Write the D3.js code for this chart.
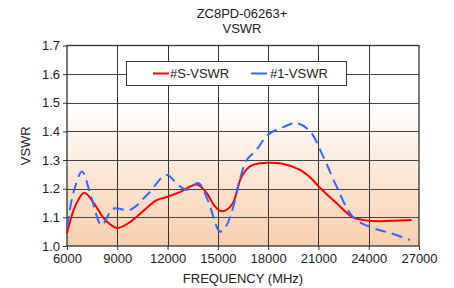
<!DOCTYPE html>
<html>
<head>
<meta charset="utf-8">
<script src="https://cdn.jsdelivr.net/npm/d3@7"></script>
<style>
  body { margin: 0; background: #fff; }
  text { font-family: "Liberation Sans", Arial, sans-serif; fill: #222; }
</style>
</head>
<body>
<div id="chart"></div>
<script>
// data
var freqS = [6000, 6500, 7030, 7600, 8300, 9000, 9800, 10600, 11350, 12000, 12800, 13740, 14330, 14800, 15180, 15500, 15900, 16400, 16900, 17500, 18000, 18800, 19900, 20500, 21030, 22090, 23080, 24280, 25300, 26560];
var vswrS = [1.045, 1.14, 1.186, 1.15, 1.09, 1.063, 1.085, 1.125, 1.16, 1.172, 1.19, 1.215, 1.185, 1.14, 1.122, 1.125, 1.15, 1.24, 1.277, 1.289, 1.291, 1.288, 1.266, 1.24, 1.207, 1.149, 1.10, 1.087, 1.088, 1.091];

var freq1 = [6000, 6400, 6900, 7400, 8070, 8750, 9760, 10800, 11940, 12600, 13140, 13830, 14400, 15130, 15500, 15920, 16300, 16720, 17310, 17980, 18900, 19670, 20500, 21290, 22090, 23080, 24280, 25300, 26450];
var vswr1 = [1.067, 1.19, 1.26, 1.18, 1.073, 1.13, 1.126, 1.18, 1.248, 1.215, 1.196, 1.22, 1.16, 1.05, 1.07, 1.137, 1.23, 1.30, 1.336, 1.388, 1.415, 1.429, 1.40, 1.312, 1.207, 1.10, 1.062, 1.045, 1.021];

var xTicks = [6000, 9000, 12000, 15000, 18000, 21000, 24000, 27000];
var yTicks = [1.0, 1.1, 1.2, 1.3, 1.4, 1.5, 1.6, 1.7];
var seriesNames = ["#S-VSWR", "#1-VSWR"];

var width = 454, height = 288;
var margin = {left: 67, right: 35, top: 45.5, bottom: 42};

var svg = d3.select("#chart").append("svg")
	.attr("width", width).attr("height", height);

var x = d3.scaleLinear().domain([6000, 27000]).range([margin.left, width - margin.right]);
var y = d3.scaleLinear().domain([1.0, 1.7]).range([height - margin.bottom, margin.top]);

// background gradient: white above 1.5, peach toward 1.0
var defs = svg.append("defs");
var grad = defs.append("linearGradient").attr("id", "bg")
	.attr("x1", 0).attr("y1", 0).attr("x2", 0).attr("y2", 1);
grad.append("stop").attr("offset", "0%").attr("stop-color", "#ffffff");
grad.append("stop").attr("offset", (0.2 / 0.7 * 100) + "%").attr("stop-color", "#ffffff");
grad.append("stop").attr("offset", "100%").attr("stop-color", "#f8cfae");

svg.append("rect")
	.attr("x", x(6000)).attr("y", y(1.7))
	.attr("width", x(27000) - x(6000)).attr("height", y(1.0) - y(1.7))
	.attr("fill", "url(#bg)");

// grid
svg.append("g").selectAll("line").data(xTicks.slice(1, -1)).enter().append("line")
	.attr("x1", function(d) { return Math.round(x(d)) + 0.5; })
	.attr("x2", function(d) { return Math.round(x(d)) + 0.5; })
	.attr("y1", y(1.7)).attr("y2", y(1.0))
	.attr("stroke", "#333").attr("stroke-width", 1);
svg.append("g").selectAll("line").data(yTicks.slice(1, -1)).enter().append("line")
	.attr("y1", function(d) { return Math.round(y(d)) + 0.5; })
	.attr("y2", function(d) { return Math.round(y(d)) + 0.5; })
	.attr("x1", x(6000)).attr("x2", x(27000))
	.attr("stroke", "#444").attr("stroke-width", 1);

// axes
var xAxis = svg.append("g")
	.attr("transform", "translate(0," + y(1.0) + ")")
	.call(d3.axisBottom(x).tickValues(xTicks).tickSize(4).tickPadding(4).tickFormat(d3.format("d")));
var yAxis = svg.append("g")
	.attr("transform", "translate(" + x(6000) + ",0)")
	.call(d3.axisLeft(y).tickValues(yTicks).tickSize(4).tickPadding(3).tickFormat(d3.format(".1f")));
[xAxis, yAxis].forEach(function(a) {
	a.select(".domain").remove();
	a.selectAll("line").attr("stroke", "#333");
	a.selectAll("text").style("font-size", "13px").attr("fill", "#222");
});

// frame
svg.append("rect")
	.attr("x", x(6000)).attr("y", y(1.7))
	.attr("width", x(27000) - x(6000)).attr("height", y(1.0) - y(1.7))
	.attr("fill", "none").attr("stroke", "#333").attr("stroke-width", 1.3);

// lines
var line = d3.line().curve(d3.curveCatmullRom.alpha(0.5))
	.x(function(d) { return x(d[0]); })
	.y(function(d) { return y(d[1]); });

svg.append("path")
	.datum(d3.zip(freqS, vswrS))
	.attr("d", line)
	.attr("fill", "none").attr("stroke", "#ff0000").attr("stroke-width", 2);

svg.append("path")
	.datum(d3.zip(freq1, vswr1))
	.attr("d", line)
	.attr("fill", "none").attr("stroke", "#3366ff").attr("stroke-width", 2)
	.attr("stroke-dasharray", "11,6");

// legend
var leg = svg.append("g");
leg.append("rect")
	.attr("x", 126.5).attr("y", 61.5).attr("width", 220).attr("height", 24)
	.attr("fill", "#fff").attr("stroke", "#333").attr("stroke-width", 1);
var legColors = ["#ff0000", "#3366ff"];
var legX = [153, 251];
seriesNames.forEach(function(n, i) {
	leg.append("line")
		.attr("x1", legX[i]).attr("x2", legX[i] + 16)
		.attr("y1", 73.5).attr("y2", 73.5)
		.attr("stroke", legColors[i]).attr("stroke-width", 2);
	leg.append("text")
		.attr("x", legX[i] + (i == 0 ? 17 : 19)).attr("y", 78)
		.style("font-size", "13px")
		.text(n);
});

// titles
svg.append("text").attr("x", 242).attr("y", 18).attr("text-anchor", "middle")
	.style("font-size", "13px").text("ZC8PD-06263+");
svg.append("text").attr("x", 242).attr("y", 33).attr("text-anchor", "middle")
	.style("font-size", "13px").text("VSWR");
svg.append("text").attr("x", 243).attr("y", 283).attr("text-anchor", "middle")
	.style("font-size", "13px").text("FREQUENCY (MHz)");
svg.append("text")
	.attr("transform", "translate(30," + ((y(1.0) + y(1.7)) / 2) + ") rotate(-90)")
	.attr("text-anchor", "middle")
	.style("font-size", "13px").text("VSWR");
</script>
</body>
</html>
